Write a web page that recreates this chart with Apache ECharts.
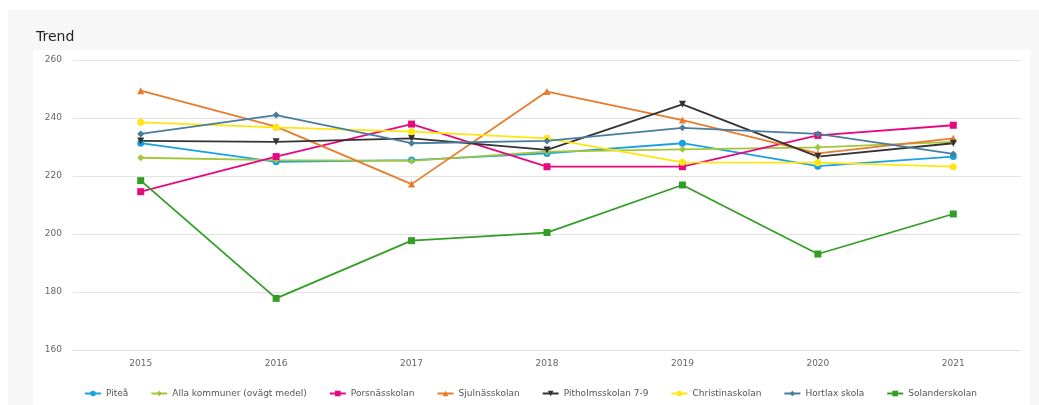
<!DOCTYPE html>
<html>
<head>
<meta charset="utf-8">
<title>Trend</title>
<script src="https://cdn.jsdelivr.net/npm/echarts@6/dist/echarts.min.js"></script>
<style>
  html, body { margin: 0; padding: 0; background: #ffffff; }
  #chart { width: 1039px; height: 405px; }
</style>
</head>
<body>
<div id="chart"></div>
<script>
// ---- data ----
var years = ["2015", "2016", "2017", "2018", "2019", "2020", "2021"];

var pitea        = [231.3, 224.9, 225.5, 227.8, 231.3, 223.4, 226.7];
var allaKommuner = [226.3, 225.5, 225.2, 228.4, 229.2, 229.9, 231.8];
var porsnas      = [214.6, 226.7, 237.9, 223.2, 223.2, 234.0, 237.5];
var sjulnas      = [249.4, 237.0, 217.2, 249.1, 239.3, 227.8, 233.0];
var pitholm      = [232.1, 231.8, 233.0, 229.0, 244.7, 226.7, 231.3];
var christina    = [238.5, 236.8, 235.3, 233.0, 224.7, 224.6, 223.2];
var hortlax      = [234.5, 241.0, 231.3, 232.1, 236.6, 234.5, 227.6];
var solander     = [218.4, 177.8, 197.7, 200.5, 216.9, 193.1, 206.9];

var yTicks = { min: 160, max: 260, interval: 20 };

// ---- series config ----
var seriesDefs = [
  { name: "Piteå",                        data: pitea,        color: "#1ba1e2", symbol: "circle" },
  { name: "Alla kommuner (ovägt medel)",  data: allaKommuner, color: "#a2c73b", symbol: "diamond" },
  { name: "Porsnässkolan",                data: porsnas,      color: "#e5097f", symbol: "rect" },
  { name: "Sjulnässkolan",                data: sjulnas,      color: "#e87b2c", symbol: "triangle" },
  { name: "Pitholmsskolan 7-9",           data: pitholm,      color: "#333333", symbol: "triangle", rotate: 180 },
  { name: "Christinaskolan",              data: christina,    color: "#ffe512", symbol: "circle" },
  { name: "Hortlax skola",                data: hortlax,      color: "#4a7d9c", symbol: "diamond" },
  { name: "Solanderskolan",               data: solander,     color: "#339e25", symbol: "rect" }
];

var chart = echarts.init(document.getElementById("chart"), null, { renderer: "canvas" });

chart.setOption({
  backgroundColor: "#ffffff",
  animation: false,
  textStyle: { fontFamily: "DejaVu Sans" },
  // panel background: grey card with white plot box
  graphic: [{
    type: "rect",
    z: -20,
    silent: true,
    shape: { x: 8, y: 10, width: 1031, height: 395 },
    style: { fill: "#f7f7f7" }
  }, {
    type: "rect",
    z: -10,
    silent: true,
    shape: { x: 33, y: 50, width: 997, height: 355 },
    style: { fill: "#ffffff" }
  }],
  title: {
    text: "Trend",
    left: 31,
    top: 25,
    textStyle: { fontSize: 14, fontWeight: 500, color: "#222", fontFamily: "DejaVu Sans" }
  },
  legend: {
    bottom: 2,
    left: 79,
    itemWidth: 16,
    itemHeight: 7,
    itemGap: 22,
    textStyle: { fontSize: 9, color: "#555" },
    data: seriesDefs.map(function(s) { return s.name; })
  },
  grid: { left: 73, right: 18, top: 60, bottom: 55 },
  xAxis: {
    type: "category",
    data: years,
    boundaryGap: true,
    axisLine: { lineStyle: { color: "#e0e0e0" } },
    axisTick: { show: false },
    axisLabel: { fontSize: 9, color: "#666", margin: 9 }
  },
  yAxis: {
    type: "value",
    min: yTicks.min,
    max: yTicks.max,
    interval: yTicks.interval,
    axisLine: { show: false },
    axisTick: { show: false },
    axisLabel: { fontSize: 9, color: "#666", margin: 11 },
    splitLine: { lineStyle: { color: "#e3e3e3" } }
  },
  series: seriesDefs.map(function(s) {
    return {
      name: s.name,
      type: "line",
      data: s.data,
      symbol: s.symbol,
      symbolSize: 7,
      symbolRotate: s.rotate || 0,
      color: s.color,
      lineStyle: { width: 1.8, color: s.color },
      itemStyle: { color: s.color }
    };
  })
});
</script>
</body>
</html>
